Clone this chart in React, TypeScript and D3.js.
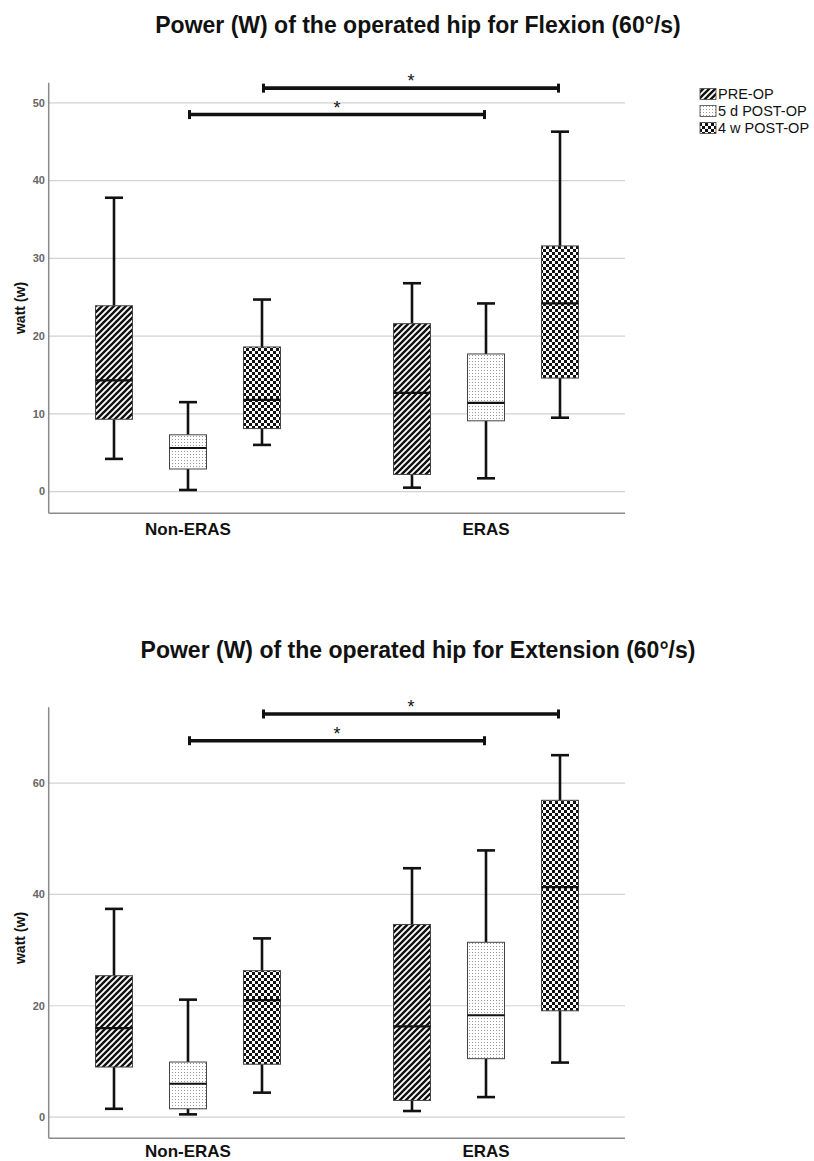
import React from "react";
import * as d3 from "d3";

const groups = ["Non-ERAS", "ERAS"];
const series = ["PRE-OP", "5 d POST-OP", "4 w POST-OP"];

// [min, q1, median, q3, max] per group (Non-ERAS, ERAS)
const flexPre = [[4.2, 9.3, 14.3, 23.9, 37.8], [0.5, 2.2, 12.7, 21.6, 26.8]];
const flex5d = [[0.2, 2.9, 5.6, 7.3, 11.5], [1.7, 9.1, 11.4, 17.7, 24.2]];
const flex4w = [[6.0, 8.1, 11.8, 18.6, 24.7], [9.5, 14.6, 24.2, 31.6, 46.3]];

const extPre = [[1.5, 9.0, 16.0, 25.4, 37.4], [1.1, 3.0, 16.3, 34.6, 44.7]];
const ext5d = [[0.5, 1.5, 6.0, 9.9, 21.1], [3.6, 10.5, 18.3, 31.4, 47.9]];
const ext4w = [[4.4, 9.5, 21.0, 26.3, 32.1], [9.8, 19.1, 41.3, 56.9, 65.0]];

const flexTicks = [0, 10, 20, 30, 40, 50];
const extTicks = [0, 20, 40, 60];

// significance: [series index, level]
const flexSig = [[1, 48.5], [2, 51.9]];
const extSig = [[1, 67.6], [2, 72.4]];

const FONT = "'Liberation Sans', Arial, Helvetica, sans-serif";
const patternIds = ["pat-stripe", "pat-dots", "pat-check"];

function Patterns() {
  return (
    <defs>
      <pattern id="pat-stripe" patternUnits="userSpaceOnUse" width={6} height={6}>
        <rect width={6} height={6} fill="#fff" />
        <path d="M-1,7 L7,-1 M-2,2 L2,-2 M4,8 L8,4" stroke="#111" strokeWidth={2.4} />
      </pattern>
      <pattern id="pat-dots" patternUnits="userSpaceOnUse" width={3} height={3}>
        <rect width={3} height={3} fill="#fff" />
        <rect x={1} y={1} width={1} height={1} fill="#9a9a9a" />
      </pattern>
      <pattern id="pat-check" patternUnits="userSpaceOnUse" width={6} height={6}>
        <rect width={6} height={6} fill="#fff" />
        <rect x={0} y={0} width={3} height={3} fill="#111" />
        <rect x={3} y={3} width={3} height={3} fill="#111" />
      </pattern>
    </defs>
  );
}

function Chart({ title, titleY, data, ticks, yDomain, yRange, sig, labelY, groupLabelY }) {
  const y = d3.scaleLinear().domain(yDomain).range(yRange);
  const xLeft = 48.7;
  const xRight = 625;
  const gx = d3.scalePoint().domain(groups).range([188, 486]);
  const sx = d3.scalePoint().domain(series).range([-74, 74]);
  const bw = 37;
  const cap = 9;
  const [yBottom, yTop] = yRange;
  return (
    <g>
      <text x={418} y={titleY} textAnchor="middle" fontFamily={FONT} fontWeight="bold" fontSize={23} fill="#111">
        {title}
      </text>
      {ticks.map((t) => (
        <g key={t}>
          <line x1={xLeft} x2={xRight} y1={y(t)} y2={y(t)} stroke="#d2d2d2" strokeWidth={1.2} />
          <text x={45} y={y(t)} dy="0.35em" textAnchor="end" fontFamily={FONT} fontSize={11} fontWeight="bold" fill="#666">
            {t}
          </text>
        </g>
      ))}
      <line x1={xLeft} x2={xLeft} y1={yTop} y2={yBottom} stroke="#8a8a8a" strokeWidth={1.5} />
      <line x1={xLeft} x2={xRight} y1={yBottom} y2={yBottom} stroke="#8a8a8a" strokeWidth={1.5} />
      <text
        transform={`translate(20,${labelY}) rotate(-90)`}
        textAnchor="middle"
        dominantBaseline="central"
        fontFamily={FONT}
        fontWeight="bold"
        fontSize={14}
        fill="#111"
      >
        watt (w)
      </text>
      {groups.map((g) => (
        <text key={g} x={gx(g)} y={groupLabelY} textAnchor="middle" fontFamily={FONT} fontWeight="bold" fontSize={17} fill="#111">
          {g}
        </text>
      ))}
      {series.map((s, si) =>
        groups.map((g, gi) => {
          const [mn, q1, md, q3, mx] = data[si][gi];
          const cx = gx(g) + sx(s);
          return (
            <g key={s + g}>
              <line x1={cx} x2={cx} y1={y(mx)} y2={y(q3)} stroke="#111" strokeWidth={2.6} />
              <line x1={cx} x2={cx} y1={y(q1)} y2={y(mn)} stroke="#111" strokeWidth={2.6} />
              <line x1={cx - cap} x2={cx + cap} y1={y(mx)} y2={y(mx)} stroke="#111" strokeWidth={2.6} />
              <line x1={cx - cap} x2={cx + cap} y1={y(mn)} y2={y(mn)} stroke="#111" strokeWidth={2.6} />
              <rect
                x={cx - bw / 2}
                y={y(q3)}
                width={bw}
                height={y(q1) - y(q3)}
                fill={`url(#${patternIds[si]})`}
                stroke="#444"
                strokeWidth={1}
              />
              <line x1={cx - bw / 2} x2={cx + bw / 2} y1={y(md)} y2={y(md)} stroke="#111" strokeWidth={2.2} />
            </g>
          );
        })
      )}
      {sig.map(([si, lvl], i) => {
        const x1 = gx(groups[0]) + sx(series[si]);
        const x2 = gx(groups[1]) + sx(series[si]);
        const yy = y(lvl);
        return (
          <g key={i}>
            <line x1={x1} x2={x2} y1={yy} y2={yy} stroke="#111" strokeWidth={3.6} />
            <line x1={x1 + 1.5} x2={x1 + 1.5} y1={yy - 4.5} y2={yy + 4.5} stroke="#111" strokeWidth={3} />
            <line x1={x2 - 1.5} x2={x2 - 1.5} y1={yy - 4.5} y2={yy + 4.5} stroke="#111" strokeWidth={3} />
            <text x={(x1 + x2) / 2} y={yy - 1} textAnchor="middle" fontFamily={FONT} fontSize={18} fill="#111">
              *
            </text>
          </g>
        );
      })}
    </g>
  );
}

function Legend() {
  const rows = [94, 111, 128];
  return (
    <g>
      {series.map((s, i) => (
        <g key={s}>
          <rect x={700} y={rows[i] - 5.5} width={16} height={11} fill={`url(#${patternIds[i]})`} stroke="#444" strokeWidth={0.8} />
          <text x={718} y={rows[i]} dy="0.36em" fontFamily={FONT} fontSize={14.5} fill="#111">
            {s}
          </text>
        </g>
      ))}
    </g>
  );
}

export default function App() {
  const flexData = [flexPre, flex5d, flex4w];
  const extData = [extPre, ext5d, ext4w];
  return (
    <div style={{ position: "absolute", left: 0, top: 0 }}>
      <svg width={814} height={1161} style={{ display: "block", background: "#fff" }}>
        <Patterns />
        <Chart
          title="Power (W) of the operated hip for Flexion (60°/s)"
          titleY={33}
          data={flexData}
          ticks={flexTicks}
          yDomain={[-2.8, 52.6]}
          yRange={[513.3, 82.7]}
          sig={flexSig}
          labelY={308}
          groupLabelY={535}
        />
        <Legend />
        <Chart
          title="Power (W) of the operated hip for Extension (60°/s)"
          titleY={658}
          data={extData}
          ticks={extTicks}
          yDomain={[-3.8, 73.6]}
          yRange={[1138.3, 707.3]}
          sig={extSig}
          labelY={938}
          groupLabelY={1157}
        />
      </svg>
    </div>
  );
}
